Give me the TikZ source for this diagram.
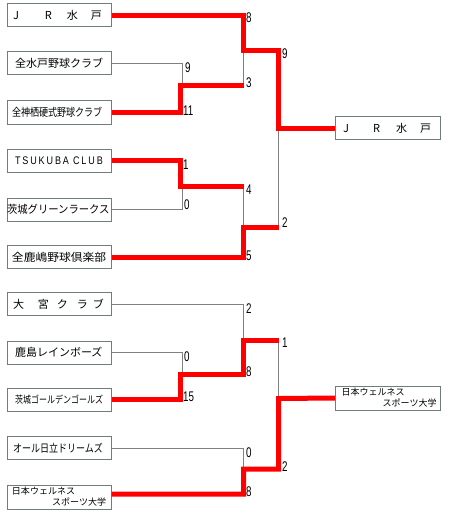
\documentclass[tikz,border=0pt]{standalone}
\usepackage{graphicx}
\usepackage{fontspec}
\setmainfont{Liberation Sans}
\newfontfamily\jp{Noto Sans CJK JP}
\newfontfamily\lat{Liberation Sans}
\newfontfamily\lsp[LetterSpace=21]{Liberation Sans}
\definecolor{win}{RGB}{255,0,0}
\definecolor{lose}{RGB}{128,128,128}
\definecolor{frame}{RGB}{110,125,125}
\newcommand\scr[1]{\scalebox{0.7}[1]{#1}}
\newcommand\jrleft{\hspace*{6pt}\makebox[32pt][l]{J}\makebox[22pt][l]{R}\makebox[24pt][l]{水}戸}
\newcommand\jrfinal{\hspace*{8pt}\makebox[30pt][l]{J}\makebox[23pt][l]{R}\makebox[24pt][l]{水}戸}
\begin{document}
\begin{tikzpicture}[x=1pt,y=-1pt,
  team/.style={draw=frame, line width=1pt, fill=white, minimum height=23pt,
    text width=104pt, inner sep=0pt, align=left, font=\jp\fontsize{11}{13}\selectfont},
  fteam/.style={team, text width=105pt},
  twoline/.style={font=\jp\fontsize{9}{11}\selectfont, minimum height=24pt},
  score/.style={anchor=west, inner sep=0pt, font=\lat\fontsize{14}{14}\selectfont},
  wline/.style={draw=win, line width=5pt, line join=miter},
  lline/.style={draw=lose, line width=1pt}]

\fill[white] (0,0) rectangle (470,516);
\useasboundingbox (0,0) rectangle (470,516);

% teams
\node[team] (t1) at (59,15.5) {\jrleft};
\node[team] (t2) at (59,63.5) {\hspace*{8pt}全水戸野球クラブ};
\node[team] (t3) at (59,112.5) {\hspace*{5pt}\scalebox{0.82}[1]{全神栖硬式野球クラブ}};
\node[team] (t4) at (59,160.5) {\hspace*{8pt}\scalebox{0.82}[1]{\lsp\fontsize{11}{13}\selectfont TSUKUBA\hspace{5pt}CLUB}};
\node[team] (t5) at (59,209.5) {\scalebox{0.94}[1]{茨城グリーンラークス}};
\node[team] (t6) at (59,257) {\hspace*{5pt}\scalebox{1.07}[1]{全鹿嶋野球倶楽部}};
\node[team] (t7) at (59,304) {\hspace*{6pt}\makebox[25pt][l]{大}\makebox[19pt][l]{宮}\makebox[20pt][l]{ク}\makebox[16pt][l]{ラ}ブ};
\node[team] (t8) at (59,352.5) {\hspace*{8pt}鹿島レインボーズ};
\node[team] (t9) at (59,399.5) {\hspace*{8pt}\scalebox{0.8}[1]{\fontsize{10}{12}\selectfont 茨城ゴールデンゴールズ}};
\node[team] (t10) at (59,448) {\hspace*{6pt}\scalebox{0.82}[1]{オール日立ドリームズ}};
\node[team,twoline] (t11) at (59,497) {\hspace*{5pt}日本ウェルネス\\\makebox[104pt][r]{スポーツ大学\hspace*{5pt}}};

% finals
\node[fteam] (f1) at (387.5,128) {\jrfinal};
\node[fteam,twoline] (f2) at (388,398) {\hspace*{6pt}日本ウェルネス\\\makebox[105pt][r]{スポーツ大学\hspace*{4pt}}};

% junctions
\coordinate (A1) at (180.5,86);
\coordinate (B1) at (180.5,186.5);
\coordinate (C1) at (180.5,374);
\coordinate (D) at (243.5,51);
\coordinate (DA) at (243.5,86);
\coordinate (E) at (243.5,227);
\coordinate (EB) at (243.5,186.5);
\coordinate (G) at (243.5,340);
\coordinate (GC) at (243.5,374);
\coordinate (H) at (243.5,469);
\coordinate (K) at (278.5,128);
\coordinate (KE) at (278.5,227);
\coordinate (M) at (278.5,398.5);
\coordinate (MG) at (278.5,340);

% losing lines
\draw[lline] (t2.east) -| ([xshift=1.5pt]A1);
\draw[lline] (t5.east) -| ([xshift=1.5pt]B1);
\draw[lline] (t8.east) -| ([xshift=1.5pt]C1);
\draw[lline] (D) -- (DA);
\draw[lline] (EB) -- (E);
\draw[lline] (K) -- (KE);
\draw[lline] (t7.east) -| (G);
\draw[lline] (t10.east) -| (H);
\draw[lline] (MG) -- (M);

% winning lines
\draw[wline] (t1.east) -| (D) -| (K) -- (f1.west);
\draw[wline] (t3.east) -| (A1) -- (DA);
\draw[wline] (t4.east) -| (B1) -- (EB);
\draw[wline] (t6.east) -| (E) -- (KE);
\draw[wline] (t9.east) -| (C1) -| (G) -- (MG);
\draw[wline] ([yshift=3pt]t11.east) -| (H) -| (M) -- (f2.west);

% scores
\node[score] (s1) at (185,68) {\scr{9}};
\node[score] (s2) at (183,111) {\scr{11}};
\node[score] (s3) at (246,18) {\scr{8}};
\node[score] (s4) at (246,83) {\scr{3}};
\node[score] (s5) at (282,54) {\scr{9}};
\node[score] (s6) at (183,165) {\scr{1}};
\node[score] (s7) at (184,205) {\scr{0}};
\node[score] (s8) at (246,190) {\scr{4}};
\node[score] (s9) at (246,256) {\scr{5}};
\node[score] (s10) at (282,223) {\scr{2}};
\node[score] (s11) at (246,309) {\scr{2}};
\node[score] (s12) at (184,357) {\scr{0}};
\node[score] (s13) at (282,343) {\scr{1}};
\node[score] (s14) at (246,372) {\scr{8}};
\node[score] (s15) at (183,397) {\scr{15}};
\node[score] (s16) at (246,453) {\scr{0}};
\node[score] (s17) at (282,467) {\scr{2}};
\node[score] (s18) at (246,492) {\scr{8}};
\end{tikzpicture}
\end{document}
